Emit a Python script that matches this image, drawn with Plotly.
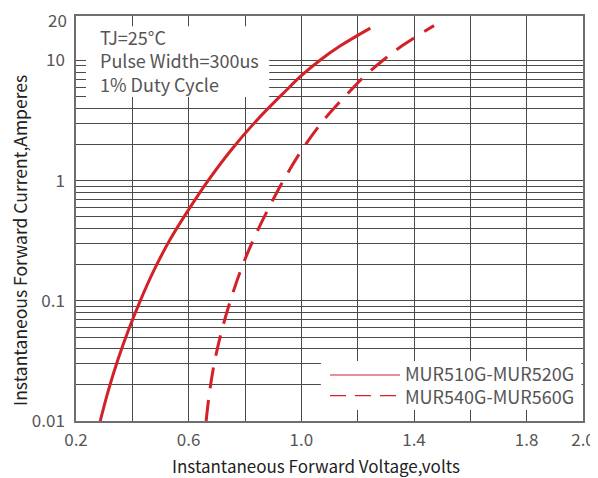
import plotly.graph_objects as go

# ---- data ----
v_510 = [0.286, 0.315, 0.348, 0.385, 0.428, 0.477, 0.533, 0.597, 0.669, 0.751,
         0.843, 0.945, 1.001, 1.065, 1.140, 1.245]
i_510 = [0.0100, 0.018, 0.032, 0.056, 0.10, 0.18, 0.32, 0.56, 1.0, 1.8,
         3.2, 5.6, 7.5, 10.0, 13.3, 18.6]

v_540 = [0.662, 0.675, 0.693, 0.717, 0.748, 0.785, 0.829, 0.879, 0.936, 1.002,
         1.080, 1.174, 1.227, 1.289, 1.359, 1.471]
i_540 = [0.0100, 0.018, 0.032, 0.056, 0.10, 0.18, 0.32, 0.56, 1.0, 1.8,
         3.2, 5.6, 7.5, 10.0, 13.3, 19.5]

series_names = ["MUR510G-MUR520G", "MUR540G-MUR560G"]

x_grid = [0.2, 0.4, 0.6, 0.8, 1.0, 1.2, 1.4, 1.6, 1.8, 2.0]
x_labels = ["0.2", "", "0.6", "", "1.0", "", "1.4", "", "1.8", "2.0"]

y_decades = [0.01, 0.1, 1, 10]
y_decade_labels = ["0.01", "0.1", "1", "10"]
y_top_label = "20"
y_minor_steps = [2, 3, 4, 5, 6, 7, 8, 9]

note_lines = ["TJ=25°C", "Pulse Width=300us", "1% Duty Cycle"]

x_title = "Instantaneous Forward Voltage,volts"
y_title = "Instantaneous Forward Current,Amperes"

# ---- build tick lists ----
y_tickvals, y_ticktext = [], []
for k, d in enumerate(y_decades):
    y_tickvals.append(d)
    y_ticktext.append(y_decade_labels[k])
    if k < len(y_decades) - 1:
        for m in y_minor_steps:
            y_tickvals.append(round(d * m, 6))
            y_ticktext.append("")

RED = "#d42027"
FONT = "Noto Sans CJK SC"
GRID = "#4a4a4a"
TXT = "#555555"

fig = go.Figure()
fig.add_trace(go.Scatter(x=v_510, y=i_510, mode="lines", name=series_names[0],
                         line=dict(color=RED, width=3, shape="spline", smoothing=1.0),
                         showlegend=False))
fig.add_trace(go.Scatter(x=v_540, y=i_540, mode="lines", name=series_names[1],
                         line=dict(color=RED, width=3, shape="spline", smoothing=1.0,
                                   dash="21px,12px"),
                         showlegend=False))

# white boxes (note box and legend box) covering grid lines
fig.add_shape(type="rect", xref="paper", yref="paper", x0=0.0197, x1=0.381, y0=0.80, y1=0.975,
              fillcolor="white", line=dict(width=0), layer="above")
fig.add_shape(type="rect", xref="paper", yref="paper", x0=0.483, x1=0.997, y0=0.027, y1=0.148,
              fillcolor="white", line=dict(width=0), layer="above")

# legend samples
fig.add_shape(type="line", xref="paper", yref="paper", x0=0.501, x1=0.639, y0=0.1136, y1=0.1136,
              line=dict(color=RED, width=1.2), layer="above")
fig.add_shape(type="line", xref="paper", yref="paper", x0=0.501, x1=0.639, y0=0.0625, y1=0.0625,
              line=dict(color=RED, width=1.2, dash="16px,9px"), layer="above")
fig.add_annotation(text="<br>".join(series_names), xref="paper", yref="paper", x=0.645, y=0.0889,
                   xanchor="left", yanchor="middle", align="left", showarrow=False,
                   font=dict(family=FONT, size=18, color=TXT))

fig.add_annotation(text="<br>".join(note_lines), xref="paper", yref="paper", x=0.0428, y=0.8900,
                   xanchor="left", yanchor="middle", align="left", showarrow=False,
                   font=dict(family=FONT, size=18, color=TXT))

# top y label "20"
fig.add_annotation(text=y_top_label, xref="paper", yref="paper", x=0, y=0.9915,
                   xanchor="right", yanchor="middle", xshift=-8, showarrow=False, borderpad=0,
                   font=dict(family=FONT, size=17, color=TXT))

# axis titles
fig.add_annotation(text=x_title, xref="paper", yref="paper", x=0.473, y=-0.109,
                   xanchor="center", yanchor="middle", showarrow=False,
                   font=dict(family=FONT, size=17, color="#222222"))
fig.add_annotation(text=y_title, xref="paper", yref="paper", x=-0.1115, y=0.4457,
                   xanchor="center", yanchor="middle", showarrow=False, textangle=-90, borderpad=0,
                   font=dict(family=FONT, size=17.5, color="#222222"))

# page body has an 8px default margin, so the figure is sized to fit the 598x478 window
fig.update_layout(
    width=590, height=470,
    margin=dict(l=68, r=15, t=8, b=57),
    paper_bgcolor="white", plot_bgcolor="white",
    font=dict(family=FONT, size=17, color=TXT),
    xaxis=dict(range=[0.2, 2.0], tickmode="array", tickvals=x_grid, ticktext=x_labels,
               showgrid=True, gridcolor=GRID, gridwidth=1, zeroline=False,
               showline=True, linecolor="#6e6e6e", linewidth=1.5, mirror=True,
               ticks="", ticklabelstandoff=3, automargin=False,
               tickfont=dict(family=FONT, size=17, color=TXT)),
    yaxis=dict(type="log", range=[-2, 1.37], tickmode="array", tickvals=y_tickvals, ticktext=y_ticktext,
               showgrid=True, gridcolor=GRID, gridwidth=1, zeroline=False,
               showline=True, linecolor="#6e6e6e", linewidth=1.5, mirror=True,
               ticks="", ticklabelstandoff=6, automargin=False,
               tickfont=dict(family=FONT, size=17, color=TXT)),
)

fig.write_html("out.html")
